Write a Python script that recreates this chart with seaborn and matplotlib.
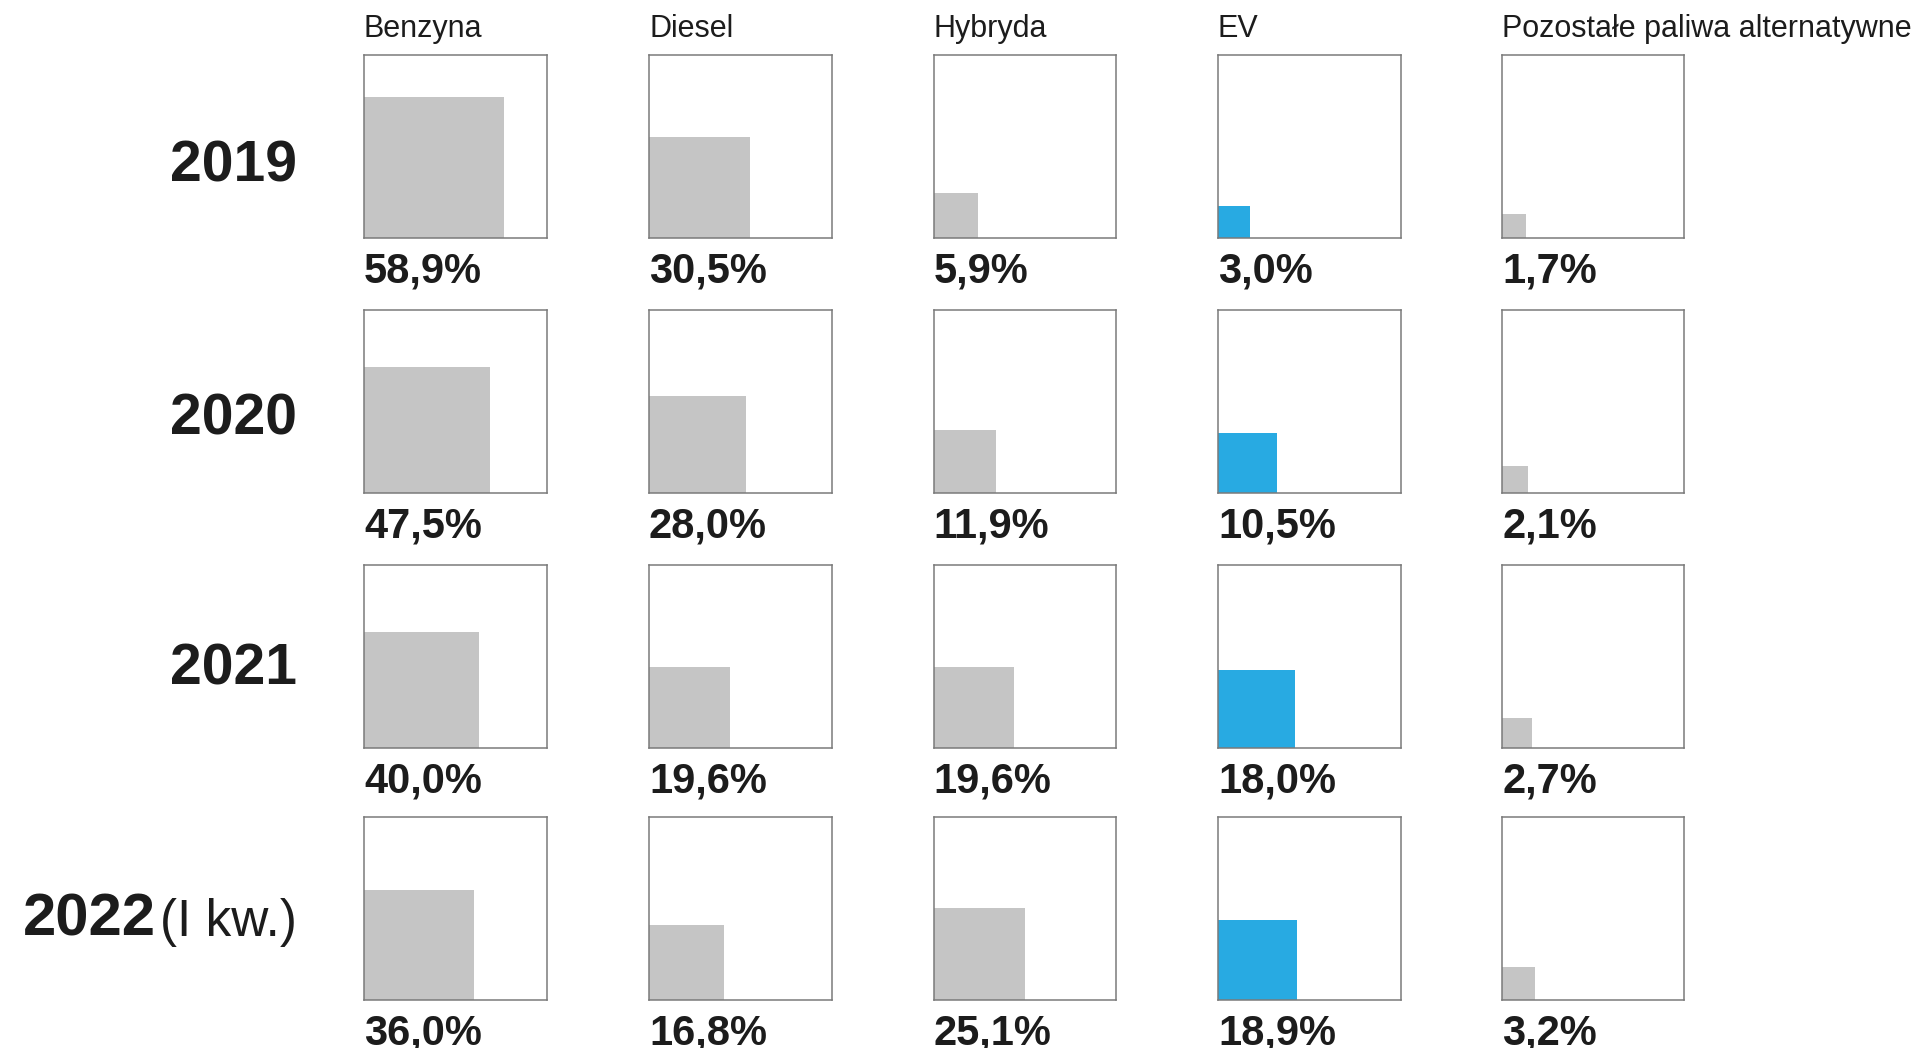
import numpy as np
import pandas as pd
import matplotlib
matplotlib.use("Agg")
import matplotlib.pyplot as plt
import seaborn as sns

# ---- data ----
years = ["2019", "2020", "2021", "2022"]
year_suffix = ["", "", "", "(I kw.)"]
fuels = ["Benzyna", "Diesel", "Hybryda", "EV", "Pozostałe paliwa alternatywne"]
benzyna = [58.9, 47.5, 40.0, 36.0]
diesel = [30.5, 28.0, 19.6, 16.8]
hybryda = [5.9, 11.9, 19.6, 25.1]
ev = [3.0, 10.5, 18.0, 18.9]
pozostale = [1.7, 2.1, 2.7, 3.2]
pct_labels = [
    ["58,9%", "30,5%", "5,9%", "3,0%", "1,7%"],
    ["47,5%", "28,0%", "11,9%", "10,5%", "2,1%"],
    ["40,0%", "19,6%", "19,6%", "18,0%", "2,7%"],
    ["36,0%", "16,8%", "25,1%", "18,9%", "3,2%"],
]

series = [benzyna, diesel, hybryda, ev, pozostale]

sns.set_theme(style="white")
plt.rcParams["font.family"] = ["Liberation Sans", "DejaVu Sans"]

W, H = 1921, 1048
fig = plt.figure(figsize=(W / 100, H / 100), dpi=100)
fig.patch.set_facecolor("white")

col_left = [364, 649, 933.5, 1218, 1502]
row_top = [55, 310, 565, 817]
year_base_frac = [0.306, 0.32, 0.345, 0.35]
box = 182.5
grey = "#c5c5c5"
blue = "#28aae2"
edge = "#7a7a7a"
txt = "#1c1c1c"

for r in range(4):
    for c in range(5):
        x0 = col_left[c] / W
        y0 = 1 - (row_top[r] + box) / H
        ax = fig.add_axes([x0, y0, box / W, box / H])
        val = series[c][r]
        side = np.sqrt(val / 100.0)
        ax.bar([0], [side], width=side, align="edge",
               color=blue if fuels[c] == "EV" else grey, linewidth=0)
        ax.set_xlim(0, 1)
        ax.set_ylim(0, 1)
        ax.set_xticks([])
        ax.set_yticks([])
        ax.set_facecolor("white")
        for s in ax.spines.values():
            s.set_visible(True)
            s.set_color(edge)
            s.set_linewidth(1.1)
        ax.text(0.0, -0.245, pct_labels[r][c], transform=ax.transAxes,
                ha="left", va="baseline", fontsize=30, fontweight="bold",
                color=txt)
        if r == 0:
            ax.text(0.0, 1.1, fuels[c], transform=ax.transAxes,
                    ha="left", va="baseline", fontsize=22, color=txt)

# year labels
renderer = fig.canvas.get_renderer()
x_right = 297 / W
for r in range(4):
    base_px = row_top[r] + box - year_base_frac[r] * box
    yb = 1 - base_px / H
    if year_suffix[r]:
        t2 = fig.text(x_right, yb, year_suffix[r], ha="right", va="baseline",
                      fontsize=37, color=txt)
        bb = t2.get_window_extent(renderer=renderer)
        fig.text((bb.x0 - 4) / W, yb, years[r], ha="right", va="baseline",
                 fontsize=43, fontweight="bold", color=txt)
    else:
        fig.text(x_right, yb, years[r], ha="right", va="baseline",
                 fontsize=41, fontweight="bold", color=txt)

fig.savefig("out.png", dpi=100, facecolor="white")
